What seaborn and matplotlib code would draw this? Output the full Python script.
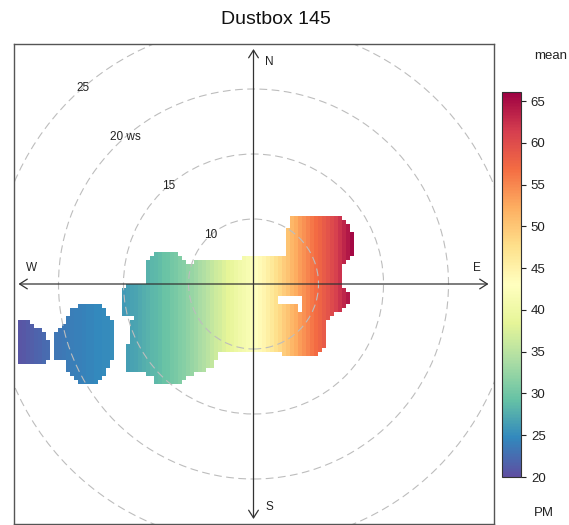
import numpy as np
import matplotlib
matplotlib.use("Agg")
import matplotlib.pyplot as plt
from matplotlib.path import Path
from matplotlib.patches import Circle
from matplotlib.transforms import Affine2D
import seaborn as sns

sns.set_theme(style="white")
plt.rcParams["font.family"] = ["Liberation Sans", "DejaVu Sans"]

# ---- chart text -------------------------------------------------------------
title = "Dustbox 145"
ring_ws = [10, 15, 20, 25]
ring_labels = ["10", "15", "20 ws", "25"]
cbar_ticks = [20, 25, 30, 35, 40, 45, 50, 55, 60, 65]
pm_min, pm_max = 20.0, 66.1

# ---- mean PM per grid column (west -> east), starting at column 1 ----------
column_mean = [
    20.6, 20.8, 21.1, 21.4, 21.7, 21.9, 22.2, 22.5, 23.0, 23.3,
    23.4, 23.6, 23.7, 23.9, 24.0, 24.1, 24.3, 24.4, 24.5, 24.7,
    24.8, 24.9, 25.0, 25.1, 25.4, 25.8, 26.1, 26.4, 26.7, 27.0,
    27.3, 27.6, 28.0, 28.3, 28.6, 29.0, 29.4, 29.7, 30.1, 30.5,
    31.0, 31.5, 32.0, 32.5, 33.1, 33.7, 34.3, 35.0, 35.7, 36.4,
    37.0, 37.7, 38.4, 39.0, 39.7, 40.4, 41.0, 41.6, 42.2, 43.0,
    43.8, 44.6, 45.5, 46.4, 47.4, 48.4, 49.4, 50.4, 51.4, 52.4,
    53.4, 54.3, 55.2, 56.1, 57.0, 57.8, 58.6, 59.4, 60.3, 61.2,
    62.2, 63.3, 64.4, 65.4,
]
first_column = 1

# ---- outlines of the covered wind-speed / direction regions (east, north) ---
outline_main = [
    (-110, 22), (-101, 30), (-75, 30), (-72, 25), (-63, 20), (-59, 25),
    (-13, 26), (30, 27), (30, 52), (34, 56), (36, 66), (40, 69), (85, 69),
    (90, 63), (95, 58), (99, 52), (99, 27), (93, 22), (89, 19), (89, -1),
    (92, -6), (95, -8), (95, -21), (87, -26), (77, -33), (72, -38),
    (72, -63), (67, -68), (64, -73), (32, -73), (27, -69), (-36, -67),
    (-38, -76), (-41, -84), (-58, -89), (-68, -94), (-78, -101),
    (-96, -101), (-101, -94), (-113, -88), (-129, -86), (-130, -63),
    (-123, -61), (-122, -34), (-132, -30), (-132, -4), (-125, 1), (-110, 1),
]
hole_main = [(25, -13), (49, -13), (49, -29), (42, -29), (42, -20), (25, -20)]
outline_west = [
    (-176, -21), (-154, -21), (-149, -27), (-144, -34), (-140, -40),
    (-140, -73), (-144, -82), (-149, -90), (-155, -99), (-158, -101),
    (-174, -101), (-181, -94), (-187, -86), (-190, -78), (-199, -74),
    (-200, -51), (-195, -46), (-190, -38), (-185, -28), (-180, -24),
]
outline_far_west = [
    (-236, -36), (-224, -36), (-220, -41), (-213, -46), (-208, -50),
    (-205, -56), (-205, -73), (-209, -78), (-211, -82), (-236, -82),
]

# ---- build the gridded surface ---------------------------------------------
HALF = 240          # half-width of the square plot, plot units
CELL = 4            # grid cell size, plot units
RING_SCALE = 13     # plot units per ws
WS_ORIGIN = 5
n = 2 * HALF // CELL

centres = -HALF + CELL / 2 + CELL * np.arange(n)
gx, gy = np.meshgrid(centres, centres[::-1])
pts = np.column_stack([gx.ravel(), gy.ravel()])
inside = np.zeros(n * n, dtype=bool)
for poly in (outline_main, outline_west, outline_far_west):
    inside |= Path(poly).contains_points(pts)
inside &= ~Path(hole_main).contains_points(pts)
inside = inside.reshape(n, n)

row = np.full(n, np.nan)
row[first_column:first_column + len(column_mean)] = column_mean
grid = np.tile(row, (n, 1))

# ---- figure -----------------------------------------------------------------
W, H = 569, 525
fig = plt.figure(figsize=(W / 100, H / 100), dpi=100)
fig.patch.set_facecolor("white")
ax = fig.add_axes([13.5 / W, 1 / H, 480 / W, 480 / H])
cax = fig.add_axes([502 / W, 48 / H, 19 / W, 385 / H])

sns.heatmap(grid, mask=~inside, cmap="Spectral_r", vmin=pm_min, vmax=pm_max,
            ax=ax, cbar_ax=cax, xticklabels=False, yticklabels=False,
            linewidths=0)

for s in ax.spines.values():
    s.set_visible(True)
    s.set_color("#555555")
    s.set_linewidth(1.0)
ax.set_xlabel("")
ax.set_ylabel("")

# plot units (east, north) -> heatmap cell coordinates
T = Affine2D().scale(1 / CELL, -1 / CELL).translate(HALF / CELL, HALF / CELL) + ax.transData

# dashed wind-speed rings and their labels
label_angle = np.deg2rad(41)
for ws, lab in zip(ring_ws, ring_labels):
    r = (ws - WS_ORIGIN) * RING_SCALE
    ax.add_patch(Circle((0, 0), r, transform=T, fill=False,
                        edgecolor="#bdbdbd", linewidth=0.8,
                        linestyle=(0, (7, 4))))
    ax.text(-r * np.sin(label_angle), r * np.cos(label_angle), lab,
            transform=T, ha="center", va="center", fontsize=8.5,
            color="#222222")

# compass axes
arrow_kw = dict(arrowstyle="<->,head_length=0.55,head_width=0.35",
                color="#333333", lw=0.9, mutation_scale=10,
                shrinkA=0, shrinkB=0)
ax.annotate("", xy=(235, 0), xytext=(-235, 0), xycoords=T, textcoords=T,
            arrowprops=arrow_kw)
ax.annotate("", xy=(0, 235), xytext=(0, -235), xycoords=T, textcoords=T,
            arrowprops=arrow_kw)
for lab, (x, y) in zip(["N", "E", "S", "W"],
                       [(16, 222), (223, 16), (16, -223), (-222, 16)]):
    ax.text(x, y, lab, transform=T, ha="center", va="center",
            fontsize=8.5, color="#222222")

# colour key
cbar = ax.collections[0].colorbar
cbar.set_ticks(cbar_ticks)
cbar.set_ticklabels([str(t) for t in cbar_ticks])
cax.tick_params(axis="y", direction="out", length=3.6, width=0.8,
                pad=3.5, labelsize=9.5, colors="#222222", right=True)
cbar.outline.set_edgecolor("#333333")
cbar.outline.set_linewidth(0.8)
cbar.outline.set_visible(True)

fig.text(534 / W, 1 - 56 / H, "mean", ha="left", va="center",
         fontsize=9.5, color="#222222")
fig.text(534 / W, 1 - 513 / H, "PM", ha="left", va="center",
         fontsize=9.5, color="#222222")
fig.text(276 / W, 1 - 19 / H, title, ha="center", va="center",
         fontsize=14, color="#111111")

fig.savefig("out.png", dpi=100, facecolor="white")
